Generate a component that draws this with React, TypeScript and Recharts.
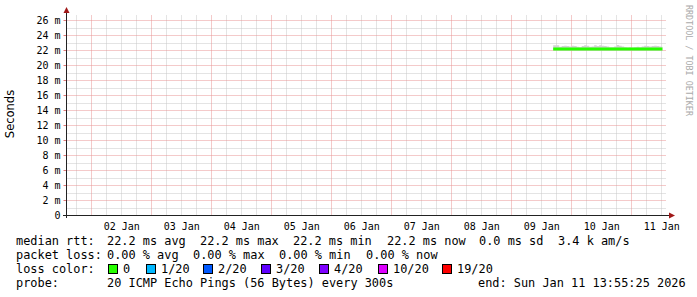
import { ComposedChart, Area, Line, XAxis, YAxis, CartesianGrid } from 'recharts'

// time axis in hours since 01 Jan 00:00, graph covers 01 Jan 13:55:25 .. 11 Jan 13:55:25
const START = 13.9236
const END = 253.9236
const Y_MAX = 26.6667

const hours = [
  208.6, 209, 210, 211, 212, 213, 214, 215, 216, 217, 218, 219, 220, 221, 222, 223,
  224, 225, 226, 227, 228, 229, 230, 231, 232, 233, 234, 235, 236, 237, 238, 239,
  240, 241, 242, 243, 244, 245, 246, 247, 248, 249, 250, 251, 252, 252.3,
]
const medianRtt = [
  22.2, 22.2, 22.2, 22.2, 22.2, 22.2, 22.2, 22.2, 22.2, 22.2, 22.2, 22.2, 22.2, 22.2, 22.2, 22.2,
  22.2, 22.2, 22.2, 22.2, 22.2, 22.2, 22.2, 22.2, 22.2, 22.2, 22.2, 22.2, 22.2, 22.2, 22.2, 22.2,
  22.2, 22.2, 22.2, 22.2, 22.2, 22.2, 22.2, 22.2, 22.2, 22.2, 22.2, 22.2, 22.2, 22.2,
]
const smokeLow = [
  22.0, 22.0, 22.0, 22.0, 22.0, 22.0, 22.0, 22.0, 22.0, 22.0, 22.0, 22.0, 22.0, 22.0, 22.0, 22.0,
  22.0, 22.0, 22.0, 22.0, 22.0, 22.0, 22.0, 22.0, 22.0, 22.0, 22.0, 22.0, 22.0, 22.0, 22.0, 22.0,
  22.0, 22.0, 22.0, 22.0, 22.0, 22.0, 22.0, 22.0, 22.0, 22.0, 22.0, 22.0, 22.0, 22.0,
]
const smokeHigh = [
  22.7, 22.7, 22.7, 22.5, 22.6, 22.65, 22.6, 22.55, 22.65, 22.6, 22.5, 22.45, 22.6, 22.7, 22.65, 22.5,
  22.55, 22.7, 22.6, 22.7, 22.65, 22.6, 22.55, 22.45, 22.45, 22.55, 22.75, 22.65, 22.55, 22.45, 22.4, 22.45,
  22.4, 22.45, 22.5, 22.45, 22.55, 22.65, 22.6, 22.55, 22.6, 22.65, 22.6, 22.55, 22.5, 22.5,
]

const dayTicks = [36, 60, 84, 108, 132, 156, 180, 204, 228, 252]
const dayLabels = ['02 Jan', '03 Jan', '04 Jan', '05 Jan', '06 Jan', '07 Jan', '08 Jan', '09 Jan', '10 Jan', '11 Jan']
const msTicks = [0, 2, 4, 6, 8, 10, 12, 14, 16, 18, 20, 22, 24, 26]
const msMinor = [1, 3, 5, 7, 9, 11, 13, 15, 17, 19, 21, 23, 25]
const midnights = [24, 48, 72, 96, 120, 144, 168, 192, 216, 240]
const sixHours: number[] = []
for (let h = 18; h <= 252; h += 6) if (h % 24 !== 0) sixHours.push(h)

const lossLabels = ['0', '1/20', '2/20', '3/20', '4/20', '10/20', '19/20']
const lossColors = ['#26ff00', '#00b8ff', '#0059ff', '#5e00ff', '#7e00ff', '#dd00ff', '#ff0000']
const lossBoxX = [108, 146, 203, 261, 319, 378, 442]

const rttStats = ['22.2 ms avg', '22.2 ms max', '22.2 ms min', '22.2 ms now', '0.0 ms sd', '3.4 k am/s']
const rttX = [107, 200, 293, 387, 479, 558]
const lossStats = ['0.00 % avg', '0.00 % max', '0.00 % min', '0.00 % now']
const lossX = [107, 193, 279, 366]

const data = hours.map((h, i) => ({
  h,
  rtt: medianRtt[i],
  smoke: [smokeLow[i], smokeHigh[i]],
}))

const mono = "'DejaVu Sans Mono', monospace"
const legendSize = 11.9

// snap grid lines onto pixel centres, like rrdtool does
const snap = (n: number) => Math.floor(n) + 0.5
const applyScale = (scale: any, v: number): number | undefined => {
  if (typeof scale === 'function') return scale(v)
  if (scale && typeof scale.map === 'function') return scale.map(v)
  return undefined
}
const rowsFor = (values: number[]) => (props: any) =>
  values.map((v) => {
    const y = applyScale(props?.yAxis?.scale, v)
    const o = props.offset
    return snap(y ?? o.top + o.height * (1 - v / Y_MAX))
  })
const colsFor = (values: number[]) => (props: any) =>
  values.map((v) => {
    const x = applyScale(props?.xAxis?.scale, v)
    const o = props.offset
    return snap(x ?? o.left + (o.width * (v - START)) / (END - START))
  })

export default function App() {
  return (
    <div style={{ position: 'fixed', left: 0, top: 0, width: 697, height: 297, background: '#fff' }}>
      <ComposedChart
        width={697}
        height={297}
        data={data}
        margin={{ top: 15.5, right: 30.5, bottom: 62, left: 0.5 }}
      >
        <CartesianGrid
          stroke="#c8c8c8"
          strokeDasharray="1 1"
          horizontalCoordinatesGenerator={rowsFor(msMinor)}
          verticalCoordinatesGenerator={colsFor(sixHours)}
        />
        <CartesianGrid
          stroke="#e89494"
          strokeDasharray="1 1"
          horizontalCoordinatesGenerator={rowsFor(msTicks)}
          verticalCoordinatesGenerator={colsFor(midnights)}
        />
        <XAxis
          dataKey="h"
          type="number"
          domain={[START, END]}
          allowDataOverflow
          ticks={dayTicks}
          interval={0}
          tickFormatter={(v) => dayLabels[dayTicks.indexOf(v)] ?? ''}
          tickLine={false}
          axisLine={false}
          height={19.5}
          tickSize={4}
          tickMargin={3}
          tick={{ fill: '#000', fontSize: 10, fontFamily: mono }}
        />
        <YAxis
          type="number"
          domain={[0, Y_MAX]}
          allowDataOverflow
          ticks={msTicks}
          interval={0}
          width={66}
          tickSize={3}
          tickMargin={3}
          tickLine={{ stroke: '#e07a7a' }}
          axisLine={false}
          tickFormatter={(v) => (v === 0 ? '0' : `${v} m`)}
          tick={{ fill: '#000', fontSize: 10, fontFamily: mono }}
        />
        <Area
          dataKey="smoke"
          type="stepAfter"
          stroke="none"
          fill="#d2d2d2"
          fillOpacity={1}
          isAnimationActive={false}
        />
        <Line
          dataKey="rtt"
          type="linear"
          stroke="#26ff00"
          strokeWidth={3}
          dot={false}
          isAnimationActive={false}
        />
      </ComposedChart>

      <svg width={697} height={297} style={{ position: 'absolute', left: 0, top: 0, pointerEvents: 'none' }}>
        {/* axes with arrow heads */}
        <line x1={66.5} y1={218} x2={66.5} y2={12} stroke="#222" />
        <polygon points="63.5,13 69.5,13 66.5,7" fill="#a01818" />
        <line x1={63} y1={215.5} x2={670} y2={215.5} stroke="#222" />
        <polygon points="669,212.5 669,218.5 675,215.5" fill="#a01818" />

        <text
          x={14}
          y={114}
          transform="rotate(-90 14 114)"
          textAnchor="middle"
          fontFamily="'DejaVu Sans', sans-serif"
          fontSize={11.5}
          fill="#000"
        >
          Seconds
        </text>
        <text
          x={686}
          y={5}
          transform="rotate(90 686 5)"
          fontFamily={mono}
          fontSize={8.4}
          fill="#aaa"
        >
          RRDTOOL / TOBI OETIKER
        </text>

        <g fontFamily={mono} fontSize={legendSize} fill="#000">
          <text x={16} y={245}>median rtt:</text>
          {rttStats.map((s, i) => (
            <text key={s} x={rttX[i]} y={245}>{s}</text>
          ))}
          <text x={16} y={259}>packet loss:</text>
          {lossStats.map((s, i) => (
            <text key={s} x={lossX[i]} y={259}>{s}</text>
          ))}
          <text x={16} y={273}>loss color:</text>
          {lossLabels.map((l, i) => (
            <g key={l}>
              <rect x={lossBoxX[i] + 0.5} y={264.5} width={9} height={9} fill={lossColors[i]} stroke="#000" />
              <text x={lossBoxX[i] + 15} y={273}>{l}</text>
            </g>
          ))}
          <text x={16} y={287}>probe:</text>
          <text x={107} y={287}>20 ICMP Echo Pings (56 Bytes) every 300s</text>
          <text x={478} y={287}>end: Sun Jan 11 13:55:25 2026</text>
        </g>
      </svg>
    </div>
  )
}
